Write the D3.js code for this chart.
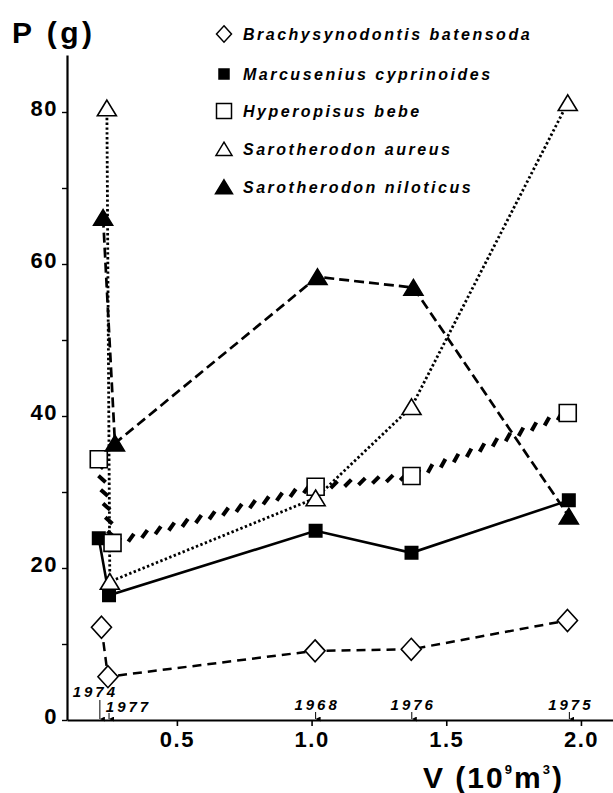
<!DOCTYPE html>
<html>
<head>
<meta charset="utf-8">
<script src="https://cdn.jsdelivr.net/npm/d3@7"></script>
<style>
  html, body { margin: 0; padding: 0; background: #fff; }
  svg { display: block; }
  text { font-family: "Liberation Sans", Arial, sans-serif; font-weight: bold; fill: #000; }
</style>
</head>
<body>
<svg id="chart" width="613" height="793"></svg>
<script>
// Reservoir volume V (10^9 m^3) for each sampled year, and mean fish weight P (g)
const years = ["1974", "1977", "1968", "1976", "1975"];
const yearV = [0.214, 0.248, 1.015, 1.372, 1.957];

const speciesNames = [
  "Brachysynodontis batensoda",
  "Marcusenius cyprinoides",
  "Hyperopisus bebe",
  "Sarotherodon aureus",
  "Sarotherodon niloticus"
];

const brachyV = [0.220, 0.244, 1.013, 1.370, 1.950];
const brachyP = [12.2, 5.7, 9.1, 9.3, 13.1];

const marcusV = [0.210, 0.248, 1.015, 1.371, 1.955];
const marcusP = [23.9, 16.4, 24.9, 22.0, 28.9];

const hyperV = [0.210, 0.261, 1.015, 1.371, 1.951];
const hyperP = [34.3, 23.3, 30.7, 32.1, 40.4];

const aureusV = [0.240, 0.251, 1.015, 1.371, 1.951];
const aureusP = [80.5, 18.2, 29.2, 41.2, 81.2];

const niloV = [0.226, 0.270, 1.022, 1.378, 1.955];
const niloP = [66.1, 36.4, 58.3, 56.9, 26.8];

const xTicks = [0.5, 1.0, 1.5, 2.0];
const yTicks = [0, 10, 20, 30, 40, 50, 60, 70, 80];
const yLabelled = [0, 20, 40, 60, 80];

const svg = d3.select("#chart");
const x = d3.scaleLinear().domain([0.092, 2.119]).range([67, 613]);
const y = d3.scaleLinear().domain([0, 87.5]).range([720, 55]);

// ---- axes ----
const xAxis = svg.append("g")
  .attr("transform", `translate(0,${y(0)})`)
  .call(d3.axisBottom(x).tickValues(xTicks).tickSize(6).tickSizeOuter(0).tickFormat(d3.format(".1f")));
xAxis.select(".domain").attr("stroke-width", 2.2);
xAxis.selectAll(".tick line").attr("stroke-width", 1.6);
xAxis.selectAll(".tick text")
  .attr("y", 27).attr("dy", 0)
  .style("font-size", "22px").style("letter-spacing", "1.5px");

const yAxis = svg.append("g")
  .attr("transform", `translate(${x.range()[0]},0)`)
  .call(d3.axisLeft(y).tickValues(yTicks).tickSize(5).tickSizeOuter(0)
    .tickFormat(d => yLabelled.includes(d) ? d : ""));
yAxis.select(".domain").attr("stroke-width", 2.2);
yAxis.selectAll(".tick line").attr("stroke-width", 1.4);
yAxis.selectAll(".tick text")
  .attr("x", -9).attr("dy", 3)
  .style("font-size", "22px").style("letter-spacing", "1.5px");

// axis titles
svg.append("text").attr("x", 12).attr("y", 43)
  .style("font-size", "30px").style("letter-spacing", "3.5px")
  .text("P (g)");

const vTitle = svg.append("text").attr("x", 423).attr("y", 788)
  .style("font-size", "30px").style("letter-spacing", "2px");
vTitle.append("tspan").text("V (10");
vTitle.append("tspan").attr("dy", -14).style("font-size", "13px").text("9");
vTitle.append("tspan").attr("dy", 14).text("m");
vTitle.append("tspan").attr("dy", -14).style("font-size", "13px").text("3");
vTitle.append("tspan").attr("dy", 14).text(")");

// ---- year markers along the V axis ----
svg.append("defs").append("marker")
  .attr("id", "arrow").attr("viewBox", "0 0 6 6")
  .attr("refX", 3).attr("refY", 6)
  .attr("markerWidth", 5).attr("markerHeight", 5)
  .attr("orient", "auto-start-reverse")
  .append("path").attr("d", "M0,0 L3,6 L6,0 Z").attr("fill", "#000");

const yearLabelPos = [
  { dx: -6, base: 697, top: 700 },
  { dx: 18, base: 712, top: 713 },
  { dx: 0, base: 710, top: 712 },
  { dx: 0, base: 710, top: 712 },
  { dx: 0, base: 710, top: 712 }
];
years.forEach((yr, i) => {
  const px = x(yearV[i]);
  const p = yearLabelPos[i];
  svg.append("line")
    .attr("x1", px).attr("x2", px)
    .attr("y1", p.top).attr("y2", y(0) - 1)
    .attr("stroke", "#000").attr("stroke-width", 1)
    .attr("marker-end", "url(#arrow)");
  svg.append("text")
    .attr("x", px + p.dx + 1.5).attr("y", p.base)
    .attr("text-anchor", "middle")
    .style("font-size", "15px").style("font-style", "italic").style("letter-spacing", "3px")
    .text(yr);
});

// ---- series lines ----
const line = d3.line().x(d => x(d[0])).y(d => y(d[1]));
const pts = (vs, ps) => vs.map((v, i) => [v, ps[i]]);

const brachyPts = pts(brachyV, brachyP);
const marcusPts = pts(marcusV, marcusP);
const hyperPts = pts(hyperV, hyperP);
const aureusPts = pts(aureusV, aureusP);
const niloPts = pts(niloV, niloP);

const lines = svg.append("g").attr("fill", "none").attr("stroke", "#000");

lines.append("path").attr("d", line(brachyPts))
  .attr("stroke-width", 2.5).attr("stroke-dasharray", "9 6");
lines.append("path").attr("d", line(marcusPts))
  .attr("stroke-width", 2.6);
lines.append("path").attr("d", line(aureusPts))
  .attr("stroke-width", 2.8).attr("stroke-dasharray", "2.4 2.4");
lines.append("path").attr("d", line(niloPts))
  .attr("stroke-width", 2.7).attr("stroke-dasharray", "10 5");

// Hyperopisus bebe: heavy slanted hatch strokes following the path
const hyperPath = lines.append("path").attr("d", line(hyperPts)).attr("stroke", "none");
(function hatch() {
  const node = hyperPath.node();
  const total = node.getTotalLength();
  const step = 14, half = 4.8;
  const ang = -0.68;
  const cosA = Math.cos(ang), sinA = Math.sin(ang);
  let d = "";
  for (let s = 6; s < total - 3; s += step) {
    const a = node.getPointAtLength(Math.max(0, s - 0.5));
    const b = node.getPointAtLength(Math.min(total, s + 0.5));
    const c = node.getPointAtLength(s);
    let tx = b.x - a.x, ty = b.y - a.y;
    const n = Math.hypot(tx, ty) || 1;
    tx /= n; ty /= n;
    const rx = tx * cosA - ty * sinA, ry = tx * sinA + ty * cosA;
    d += `M${c.x - rx * half},${c.y - ry * half}L${c.x + rx * half},${c.y + ry * half}`;
  }
  lines.append("path").attr("d", d).attr("stroke-width", 4).attr("stroke-linecap", "butt");
})();

// ---- point symbols ----
const shapes = {
  diamond: (cx, cy, s) => `M${cx},${cy - s * 1.1}L${cx + s},${cy}L${cx},${cy + s * 1.1}L${cx - s},${cy}Z`,
  square: (cx, cy, s) => `M${cx - s},${cy - s}H${cx + s}V${cy + s}H${cx - s}Z`,
  triangle: (cx, cy, s) => `M${cx},${cy - s * 0.85}L${cx + s},${cy + s * 0.8}L${cx - s},${cy + s * 0.8}Z`
};
const symbolSpec = [
  { shape: "diamond", size: 10, fill: "#fff", leg: 7.5 },
  { shape: "square", size: 6.2, fill: "#000", leg: 5 },
  { shape: "square", size: 8.5, fill: "#fff", leg: 7.5 },
  { shape: "triangle", size: 9.5, fill: "#fff", leg: 8 },
  { shape: "triangle", size: 9.5, fill: "#000", leg: 8.5 }
];
const seriesPts = [brachyPts, marcusPts, hyperPts, aureusPts, niloPts];

seriesPts.forEach((ps, i) => {
  const sp = symbolSpec[i];
  svg.append("g").selectAll("path").data(ps).join("path")
    .attr("d", d => shapes[sp.shape](x(d[0]), y(d[1]), sp.size))
    .attr("fill", sp.fill).attr("stroke", "#000").attr("stroke-width", 1.6)
    .attr("stroke-linejoin", "miter");
});

// ---- legend ----
const legendRowY = [35, 75, 112, 150, 188];
speciesNames.forEach((name, i) => {
  const sp = symbolSpec[i];
  const cy = legendRowY[i];
  svg.append("path")
    .attr("d", shapes[sp.shape](224, cy - 1, sp.leg))
    .attr("fill", sp.fill).attr("stroke", "#000").attr("stroke-width", 1.5);
  svg.append("text")
    .attr("x", 243).attr("y", cy + 5)
    .style("font-size", "16px").style("font-style", "italic").style("letter-spacing", "2.5px")
    .text(name);
});
</script>
</body>
</html>
